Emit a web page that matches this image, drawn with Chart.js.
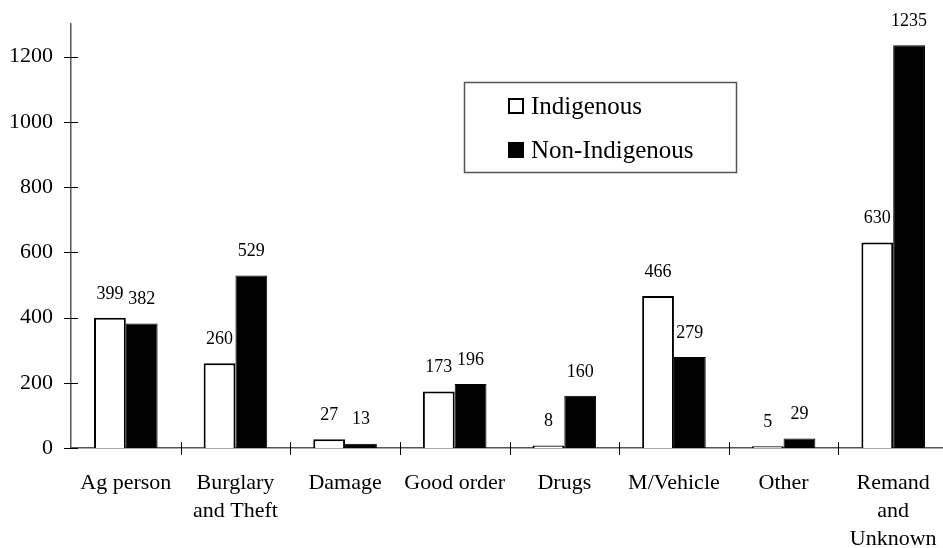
<!DOCTYPE html>
<html>
<head>
<meta charset="utf-8">
<script src="https://cdn.jsdelivr.net/npm/chart.js@4/dist/chart.umd.min.js"></script>
<style>
  html, body { margin: 0; padding: 0; background: #fff; overflow: hidden; }
  #wrap { width: 948px; height: 548px; }
</style>
</head>
<body>
<div id="wrap"><canvas id="offences"></canvas></div>
<script>
// offence categories and counts
const categories = [
  "Ag person",
  ["Burglary", "and Theft"],
  "Damage",
  "Good order",
  "Drugs",
  "M/Vehicle",
  "Other",
  ["Remand", "and", "Unknown"]
];
const indigenous = [399, 260, 27, 173, 8, 466, 5, 630];
const nonIndigenous = [382, 529, 13, 196, 160, 279, 29, 1235];
const yTicks = [0, 200, 400, 600, 800, 1000, 1200];

Chart.defaults.font.family = "'Liberation Serif', 'Times New Roman', serif";
Chart.defaults.color = "#000";

// value labels, crossing tick marks and the boxed legend
const decor = {
  id: "decor",
  afterDatasetsDraw(chart) {
    const ctx = chart.ctx;
    ctx.save();
    ctx.font = "18px 'Liberation Serif'";
    ctx.fillStyle = "#000";
    ctx.textAlign = "center";
    ctx.textBaseline = "middle";
    chart.data.datasets.forEach((ds, i) => {
      chart.getDatasetMeta(i).data.forEach((bar, j) => {
        ctx.fillText(String(ds.data[j]), bar.x, bar.y - 24);
      });
    });
    ctx.restore();
  },
  afterDraw(chart) {
    const ctx = chart.ctx;
    const area = chart.chartArea;
    const x = chart.scales.x;
    const y = chart.scales.y;
    ctx.save();
    ctx.strokeStyle = "#000";
    ctx.lineWidth = 1;
    ctx.beginPath();
    y.ticks.forEach(t => {
      const py = Math.round(y.getPixelForValue(t.value)) + 0.5;
      ctx.moveTo(area.left - 7, py);
      ctx.lineTo(area.left + 7, py);
    });
    for (let i = 1; i < categories.length; i++) {
      const px = Math.round(x.getPixelForValue(i - 0.5)) + 0.5;
      ctx.moveTo(px, area.bottom - 6);
      ctx.lineTo(px, area.bottom + 7);
    }
    ctx.stroke();

    // legend
    const lx = 464, ly = 82, lw = 272, lh = 90;
    ctx.strokeStyle = "#555";
    ctx.lineWidth = 1.5;
    ctx.strokeRect(lx + 0.5, ly + 0.5, lw, lh);
    ctx.font = "25px 'Liberation Serif'";
    ctx.textAlign = "left";
    ctx.textBaseline = "middle";
    chart.data.datasets.forEach((ds, i) => {
      const cy = ly + 24 + i * 44;
      ctx.fillStyle = ds.backgroundColor;
      ctx.fillRect(lx + 44, cy - 8, 16, 16);
      ctx.strokeStyle = "#000";
      ctx.lineWidth = 2;
      ctx.strokeRect(lx + 45, cy - 7, 14, 14);
      ctx.fillStyle = "#000";
      ctx.fillText(ds.label, lx + 67, cy + 1);
    });
    ctx.restore();
  }
};

new Chart(document.getElementById("offences"), {
  type: "bar",
  data: {
    labels: categories,
    datasets: [
      {
        label: "Indigenous",
        data: indigenous,
        backgroundColor: "#ffffff",
        borderColor: "#000000",
        borderWidth: 2
      },
      {
        label: "Non-Indigenous",
        data: nonIndigenous,
        backgroundColor: "#000000",
        borderColor: "#000000",
        borderWidth: 1
      }
    ]
  },
  options: {
    responsive: true,
    maintainAspectRatio: false,
    animation: false,
    categoryPercentage: 0.58,
    barPercentage: 1,
    layout: { padding: { top: 24, left: 0, right: 0, bottom: 0 } },
    plugins: {
      legend: { display: false },
      tooltip: { enabled: false }
    },
    scales: {
      x: {
        grid: { display: false },
        border: { display: true, color: "#555", width: 1.5 },
        ticks: {
          font: { size: 22, lineHeight: 1.28 },
          color: "#000",
          padding: 13,
          maxRotation: 0,
          autoSkip: false
        },
        afterFit(scale) {
          scale.height = 100;
          scale.paddingLeft = 0;
          scale.paddingRight = 0;
        }
      },
      y: {
        min: 0,
        max: 1300,
        grid: { display: false },
        border: { display: true, color: "#555", width: 1.5 },
        ticks: {
          stepSize: 200,
          font: { size: 22 },
          color: "#000",
          padding: 10,
          callback: v => String(v)
        },
        afterBuildTicks(scale) {
          scale.ticks = yTicks.map(v => ({ value: v }));
        },
        afterFit(scale) {
          scale.width = 71;
          scale.paddingTop = 0;
          scale.paddingBottom = 0;
        }
      }
    }
  },
  plugins: [decor]
});
</script>
</body>
</html>
